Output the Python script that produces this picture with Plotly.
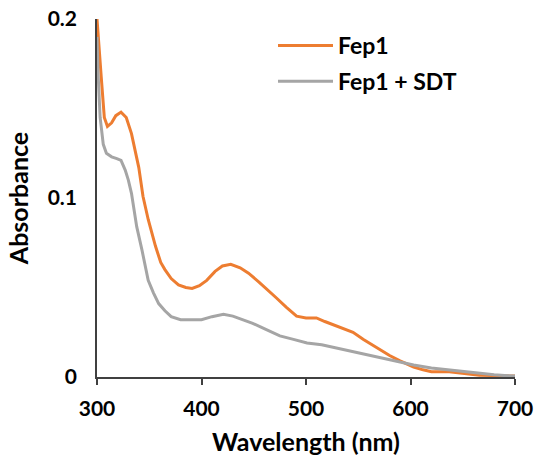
import plotly.graph_objects as go

# Wavelength (nm) and absorbance
wl_fep1 = [300, 302, 304, 307, 310, 314, 318, 323, 328, 333, 336, 340, 344, 349, 356,
           361, 365, 371, 378, 385, 391, 398, 405, 413, 420, 428, 437, 445, 455, 463,
           472, 481, 491, 500, 510, 518, 527, 536, 545, 555, 563, 571, 580, 590, 603,
           612, 620, 635, 650, 666, 680, 690, 700]
abs_fep1 = [0.200, 0.182, 0.168, 0.145, 0.140, 0.142, 0.146, 0.148, 0.145, 0.136, 0.128,
            0.117, 0.101, 0.088, 0.073, 0.064, 0.060, 0.055, 0.0515, 0.050, 0.0495, 0.051,
            0.054, 0.059, 0.062, 0.063, 0.061, 0.058, 0.053, 0.049, 0.044, 0.039, 0.034,
            0.033, 0.033, 0.031, 0.029, 0.027, 0.025, 0.021, 0.018, 0.015, 0.012, 0.009,
            0.0056, 0.004, 0.003, 0.003, 0.002, 0.001, 0.0008, 0.0006, 0.0005]

wl_sdt = [300, 301, 303, 306, 309, 314, 319, 323, 327, 330, 333, 338, 343, 349, 354,
          359, 365, 371, 380, 391, 400, 410, 421, 430, 440, 449, 460, 475, 488, 501,
          515, 530, 539, 555, 571, 587, 603, 620, 635, 650, 666, 680, 690, 700]
abs_sdt = [0.190, 0.170, 0.145, 0.130, 0.125, 0.123, 0.122, 0.121, 0.1156, 0.110, 0.1026,
           0.084, 0.071, 0.054, 0.047, 0.041, 0.037, 0.0337, 0.032, 0.0318, 0.032, 0.0337,
           0.035, 0.034, 0.032, 0.030, 0.027, 0.023, 0.021, 0.019, 0.018, 0.016, 0.015,
           0.013, 0.0106, 0.0087, 0.0067, 0.005, 0.004, 0.003, 0.0022, 0.0012, 0.0008, 0.0005]

x_ticks = [300, 400, 500, 600, 700]
y_ticks = [0, 0.1, 0.2]
y_tick_text = ["0", "0.1", "0.2"]

FONT = "Lato, 'Open Sans', sans-serif"
ORANGE = "#ED7D31"
GRAY = "#A5A5A5"
AXIS = "#404040"

fig = go.Figure()
fig.add_trace(go.Scatter(x=wl_fep1, y=abs_fep1, mode="lines", name="Fep1",
                         legendgroup="a", line=dict(color=ORANGE, width=3)))
fig.add_trace(go.Scatter(x=wl_sdt, y=abs_sdt, mode="lines", name="Fep1 + SDT",
                         legendgroup="b", line=dict(color=GRAY, width=3)))

fig.update_layout(
    width=534, height=463,
    margin=dict(l=97, r=19, t=19, b=86),
    paper_bgcolor="white", plot_bgcolor="white",
    font=dict(family=FONT, color="#000"),
    showlegend=True,
    legend=dict(x=(273 - 97) / 418, y=(377 - 24) / 358, xanchor="left", yanchor="top",
                font=dict(family=FONT, size=23, color="#000", weight="bold"),
                bgcolor="rgba(0,0,0,0)", itemwidth=55, tracegroupgap=3,
                traceorder="grouped"),
    xaxis=dict(range=[300, 700], tickvals=x_ticks, ticks="outside", ticklen=6,
               tickcolor=AXIS, tickwidth=1.5, automargin=False,
               showline=True, linecolor=AXIS, linewidth=1.5,
               showgrid=False, zeroline=False, ticklabelstandoff=6,
               tickfont=dict(family=FONT, size=21, weight="bold"),
               title=dict(text="Wavelength (nm)", standoff=15,
                          font=dict(family=FONT, size=25, weight="bold"))),
    yaxis=dict(range=[0, 0.2], tickvals=y_ticks, ticktext=y_tick_text, ticks="",
               showline=True, linecolor=AXIS, linewidth=1.5, automargin=False,
               showgrid=False, zeroline=False, ticklabelstandoff=14,
               tickfont=dict(family=FONT, size=21, weight="bold"),
               title=dict(text="Absorbance", standoff=12,
                          font=dict(family=FONT, size=25, weight="bold"))),
)

# remove the default 8px page margin so the figure sits at the window's corner
fig.write_html("out.html", config={"displayModeBar": False},
               post_script="document.body.style.margin='0';")
